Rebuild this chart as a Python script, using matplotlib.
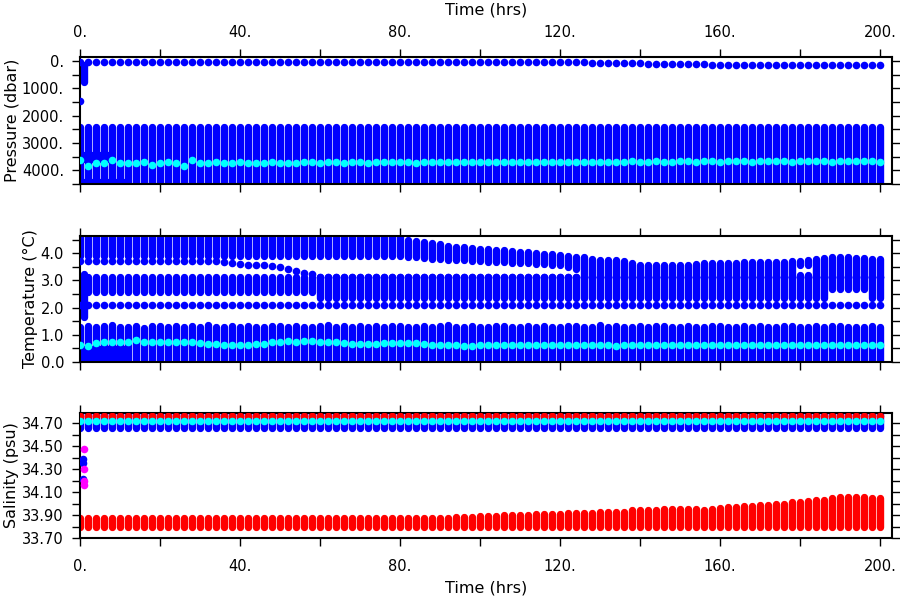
import numpy as np
import matplotlib

matplotlib.use("Agg")
import matplotlib.pyplot as plt
from matplotlib.ticker import FixedLocator, MultipleLocator, FuncFormatter

plt.rcParams["font.family"] = ["DejaVu Sans"]
plt.rcParams["font.size"] = 10.5

BLUE = "#0000ff"
CYAN = "#00ffff"
RED = "#ff0000"
MAGENTA = "#ff00ff"

# one profile every 2 hours
times = np.arange(0, 201, 2)

# ---------------- pressure (dbar) ----------------
pres_surface = [25] * 56 + [
    30, 30, 35, 35, 40, 40, 45, 50, 55, 60,
    65, 70, 75, 80, 85, 90, 95, 100, 105, 110,
    115, 120, 120, 125, 125, 130, 130, 135, 135, 140,
    140, 140, 145, 145, 145, 150, 150, 150, 150, 150,
    150, 150, 150, 150, 150,
]
pres_deep_top = 2400
pres_deep_bottom = 4600
pres_cyan = [
    3630, 3850, 3740, 3740, 3630, 3720, 3720, 3720, 3700, 3800, 3720, 3700, 3720, 3850, 3630, 3720,
    3720, 3700, 3740, 3720, 3700, 3720, 3740, 3720, 3700, 3720,
    3740, 3720, 3700, 3680, 3720, 3700, 3700, 3720, 3700, 3700,
    3720, 3700, 3700, 3680, 3700, 3700, 3720, 3700, 3700, 3680,
    3700, 3700, 3680, 3700, 3700, 3680, 3700, 3680, 3700, 3700,
    3680, 3680, 3700, 3680, 3680, 3700, 3680, 3680, 3680, 3700,
    3680, 3680, 3680, 3660, 3680, 3680, 3660, 3680, 3680, 3660,
    3660, 3680, 3660, 3660, 3680, 3660, 3660, 3660, 3680, 3660,
    3660, 3660, 3660, 3680, 3660, 3660, 3660, 3660, 3680, 3660,
    3660, 3660, 3660, 3660, 3680,
]
# first hours: extra half-hourly casts
pres_first_time = 1
pres_first_range = (130, 750)
pres_first_dot = 1450
early_mid_times = [1, 3, 5, 7]
early_mid_range = (3430, 3570)
early_deep_times = [1, 3, 5, 7, 9, 11]
early_deep_range = (4420, 4600)

# ---------------- temperature (degC) ----------------
temp_top_hi = [4.75] * 41 + [
    4.48, 4.44, 4.40, 4.36, 4.32, 4.28, 4.24, 4.21, 4.18, 4.16,
    4.14, 4.12, 4.10, 4.07, 4.05, 4.03, 4.01, 3.98, 3.95, 3.93,
    3.90, 3.87, 3.84, 3.80, 3.76, 3.74, 3.75, 3.71, 3.65, 3.58,
    3.57, 3.56, 3.56, 3.57, 3.56, 3.56, 3.60, 3.62, 3.62, 3.62,
    3.65, 3.65, 3.68, 3.68, 3.68, 3.68, 3.69, 3.69, 3.70, 3.72,
    3.74, 3.80, 3.81, 3.84, 3.87, 3.87, 3.82, 3.81, 3.80, 3.80,
]
temp_top_lo = [3.88] * 41 + [
    3.86, 3.84, 3.82, 3.80, 3.78, 3.76, 3.74, 3.73, 3.72, 3.70,
    3.69, 3.68, 3.67, 3.65, 3.63, 3.62, 3.61, 3.60, 3.58, 3.56, 3.50, 3.42,
] + [3.13] * 27 + [3.57, 3.57, 3.13, 3.13] + [2.68] * 5 + [3.13, 3.13]
temp_track = [3.70] * 18 + [
    3.66, 3.62, 3.60, 3.58, 3.56, 3.55, 3.53, 3.50, 3.40, 3.33, 3.28, 3.22,
] + [3.13] * 71
temp_mid_hi = [3.13] * 90 + [3.19, 3.19, 3.13, 3.13] + [2.34] * 5 + [3.13, 3.13]
temp_mid_lo = [2.58] * 30 + [2.36] * 71
temp_dot = [2.10] * 101
temp_bot_hi = [
    1.30, 1.33, 1.27, 1.31, 1.35, 1.30, 1.29, 1.32, 1.26, 1.33, 1.31, 1.29, 1.34, 1.27, 1.31, 1.30, 1.35, 1.28, 1.30, 1.33,
    1.29, 1.32, 1.30, 1.27, 1.34, 1.31, 1.29, 1.33, 1.30, 1.28, 1.32, 1.35, 1.29, 1.31, 1.27, 1.33, 1.30, 1.32, 1.28, 1.31,
    1.34, 1.29, 1.30, 1.33, 1.27, 1.31, 1.35, 1.30, 1.28, 1.32, 1.30, 1.29, 1.33, 1.31, 1.27, 1.30, 1.34, 1.29, 1.32, 1.30,
    1.28, 1.31, 1.33, 1.29, 1.30, 1.35, 1.28, 1.31, 1.30, 1.27, 1.33, 1.29, 1.31, 1.34, 1.28, 1.30, 1.32, 1.29, 1.27, 1.31,
    1.33, 1.30, 1.28, 1.32, 1.29, 1.34, 1.30, 1.27, 1.31, 1.33, 1.29, 1.30, 1.32, 1.28, 1.31, 1.34, 1.29, 1.30, 1.27, 1.31,
    1.30,
]
temp_bot_lo = -0.3
temp_cyan = [
    0.62, 0.60, 0.69, 0.72, 0.72, 0.72, 0.72, 0.81, 0.75, 0.72, 0.72, 0.72, 0.72,
    0.75, 0.75, 0.69, 0.66, 0.66, 0.62, 0.62, 0.62, 0.62, 0.66, 0.66, 0.75, 0.75,
    0.77, 0.75, 0.77, 0.77, 0.72, 0.72, 0.72, 0.69, 0.66, 0.66, 0.66, 0.66, 0.69,
    0.69, 0.69, 0.69, 0.69, 0.66, 0.62, 0.62, 0.62, 0.62, 0.60, 0.60, 0.62,
    0.62, 0.63, 0.62, 0.62, 0.61, 0.62, 0.63, 0.62, 0.62, 0.62,
    0.61, 0.62, 0.62, 0.63, 0.62, 0.62, 0.60, 0.62, 0.62, 0.63,
    0.62, 0.62, 0.62, 0.61, 0.62, 0.63, 0.62, 0.62, 0.62, 0.62,
    0.63, 0.62, 0.62, 0.61, 0.62, 0.62, 0.63, 0.62, 0.62, 0.62,
    0.62, 0.63, 0.62, 0.62, 0.62, 0.64, 0.62, 0.63, 0.62, 0.63,
]
temp_first_time = 1
temp_first_range = (1.67, 3.25)
early_cold_times = [1, 3, 5, 7, 9, 11]
early_cold_range = (-0.3, 0.47)

# ---------------- salinity (psu) ----------------
sal_blue_range = (34.66, 34.82)
sal_red_top = 34.76
sal_cyan = 34.715
sal_red_lo = 33.80
sal_red_hi = [33.87] * 46 + [
    33.87, 33.88, 33.88, 33.88, 33.89, 33.89, 33.89, 33.90, 33.90, 33.90,
    33.90, 33.91, 33.91, 33.91, 33.91, 33.92, 33.92, 33.92, 33.92, 33.93,
    33.93, 33.93, 33.93, 33.94, 33.94, 33.94, 33.94, 33.95, 33.95, 33.95,
    33.95, 33.95, 33.94, 33.95, 33.96, 33.97, 33.97, 33.98, 33.98, 33.99,
    33.99, 34.00, 34.00, 34.01, 34.01, 34.02, 34.03, 34.03, 34.05, 34.06,
    34.06, 34.06, 34.06, 34.05, 34.05,
]
sal_first_blue_t = [0.8, 0.8, 0.8]
sal_first_blue = [34.39, 34.35, 34.21]
sal_first_mag_t = [1.0, 1.0, 1.0, 1.0]
sal_first_mag = [34.47, 34.30, 34.20, 34.16]

LW = 5.3      # column width (points), ~7.5 px
DOT = 30      # single dot size


def columns(ax, x, lo, hi, color, z=2):
    lc = ax.vlines(x, lo, hi, colors=color, linewidth=LW, zorder=z)
    lc.set_capstyle("round")
    return lc


def dots(ax, x, y, color, z=3):
    ax.scatter(x, y, s=DOT, color=color, linewidths=0, zorder=z)


def style_axes(ax, label_top=False, label_bottom=False, xpad=7):
    ax.set_xlim(0, 203)
    ax.xaxis.set_major_locator(MultipleLocator(40))
    ax.xaxis.set_minor_locator(MultipleLocator(20))
    ax.xaxis.set_major_formatter(FuncFormatter(lambda v, p: f"{v:.0f}."))
    ax.tick_params(axis="both", which="both", direction="out", length=6, width=1,
                   top=True, right=True, labelright=False,
                   labeltop=label_top, labelbottom=label_bottom, colors="black")
    ax.tick_params(axis="x", which="major", pad=xpad)
    ax.tick_params(axis="y", which="major", pad=5.5)
    for sp in ax.spines.values():
        sp.set_linewidth(1.5)


fig = plt.figure(figsize=(9, 6), dpi=100)
ax_p = fig.add_axes([0.0889, 0.6933, 0.9022, 0.2117])
ax_t = fig.add_axes([0.0889, 0.3967, 0.9022, 0.2100])
ax_s = fig.add_axes([0.0889, 0.1033, 0.9022, 0.2083])

# pressure
columns(ax_p, times, pres_deep_top, pres_deep_bottom, BLUE)
columns(ax_p, early_mid_times, *early_mid_range, BLUE)
columns(ax_p, early_deep_times, *early_deep_range, BLUE)
columns(ax_p, [pres_first_time], *pres_first_range, BLUE)
dots(ax_p, [0], [pres_first_dot], BLUE)
dots(ax_p, times, pres_surface, BLUE)
dots(ax_p, times, pres_cyan, CYAN, z=4)
ax_p.set_ylim(4505, -150)
ax_p.yaxis.set_major_locator(FixedLocator([0, 1000, 2000, 3000, 4000]))
ax_p.yaxis.set_minor_locator(MultipleLocator(500))
ax_p.yaxis.set_major_formatter(FuncFormatter(lambda v, p: f"{v:.0f}."))
ax_p.set_ylabel("Pressure (dbar)", fontsize=11.5, labelpad=2)
ax_p.set_xlabel("Time (hrs)", labelpad=8, fontsize=11.5)
ax_p.xaxis.set_label_position("top")
style_axes(ax_p, label_top=True, xpad=6)

# temperature
columns(ax_t, times, temp_bot_lo, temp_bot_hi, BLUE)
columns(ax_t, times, temp_mid_lo, temp_mid_hi, BLUE)
columns(ax_t, times, temp_top_lo, temp_top_hi, BLUE)
columns(ax_t, early_cold_times, *early_cold_range, BLUE)
columns(ax_t, [temp_first_time], *temp_first_range, BLUE)
dots(ax_t, times, temp_dot, BLUE)
dots(ax_t, times, temp_track, BLUE)
dots(ax_t, times, temp_cyan, CYAN, z=4)
ax_t.set_ylim(0, 4.63)
ax_t.yaxis.set_major_locator(FixedLocator([0, 1, 2, 3, 4]))
ax_t.yaxis.set_minor_locator(MultipleLocator(0.5))
ax_t.yaxis.set_major_formatter(FuncFormatter(lambda v, p: f"{v:.1f}"))
ax_t.set_ylabel("Temperature (\u00b0C)", fontsize=11.5, labelpad=2)
style_axes(ax_t)

# salinity
columns(ax_s, times, *sal_blue_range, BLUE)
columns(ax_s, times, sal_red_lo, sal_red_hi, RED)
dots(ax_s, times, [sal_red_top] * len(times), RED)
dots(ax_s, times, [sal_cyan] * len(times), CYAN, z=4)
dots(ax_s, sal_first_blue_t, sal_first_blue, BLUE)
dots(ax_s, sal_first_mag_t, sal_first_mag, MAGENTA, z=4)
ax_s.set_ylim(33.70, 34.787)
ax_s.yaxis.set_major_locator(FixedLocator([33.7, 33.9, 34.1, 34.3, 34.5, 34.7]))
ax_s.yaxis.set_minor_locator(FixedLocator([33.8, 34.0, 34.2, 34.4, 34.6]))
ax_s.yaxis.set_major_formatter(FuncFormatter(lambda v, p: f"{v:.2f}"))
ax_s.set_ylabel("Salinity (psu)", fontsize=11.5, labelpad=2)
ax_s.set_xlabel("Time (hrs)", labelpad=5, fontsize=11.5)
style_axes(ax_s, label_bottom=True, xpad=9)

fig.savefig("out.png", dpi=100)
